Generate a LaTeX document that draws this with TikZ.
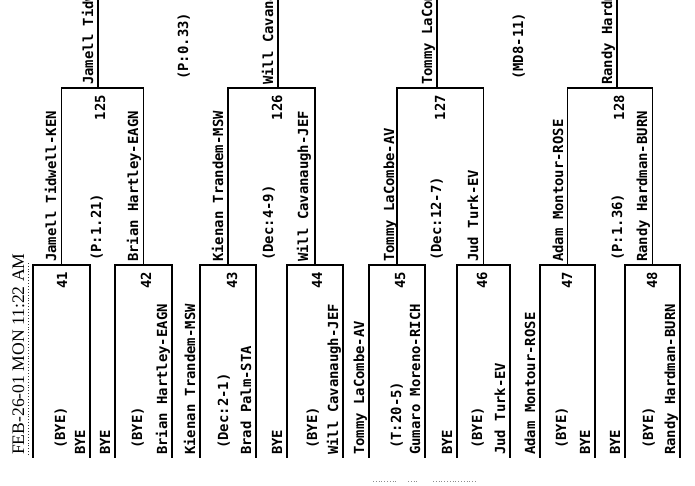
\documentclass[tikz,border=0pt]{standalone}
\usepackage{fontspec}
\newfontfamily\brkfont{DejaVu Sans Mono}
\newfontfamily\hdrfont{Liberation Serif}
\begin{document}
\begin{tikzpicture}[x=1pt,y=-1pt,
  txt/.style={font=\brkfont\bfseries\fontsize{13.9pt}{14pt}\selectfont, rotate=90, inner sep=0pt, anchor=base west},
  num/.style={txt, anchor=base east},
  hdr/.style={font=\hdrfont\fontsize{17.6pt}{18pt}\selectfont, rotate=90, inner sep=0pt, anchor=base west},
  wire/.style={line width=1.6pt, line join=miter, line cap=rect}]
\useasboundingbox (0,0) rectangle (695,486);
\fill[white] (0,0) rectangle (695,486);
\clip (0,0) rectangle (695,486);

% ---- round 1 boxes (left edge, right edge) ----
\foreach \n/\l/\r in {41/33/90, 42/115/172, 43/200/256, 44/287/343,
                       45/369/425, 46/457/510, 47/540/595, 48/625/680}{
  \coordinate (b\n L) at (\l,457);
  \coordinate (b\n R) at (\r,457);
  \coordinate (w\n) at ({(\l+\r)/2},265);
  \draw[wire] (b\n L) |- (\r,265) -- (b\n R);
}
% ---- round 2 boxes ----
\coordinate (w125) at (98,88);
\coordinate (w126) at (278,88);
\coordinate (w127) at (437,88);
\coordinate (w128) at (617,88);
\draw[wire] (w41) |- (w125) -| (w42);
\draw[wire] (w43) |- (w126) -| (w44);
\draw[wire] (w45) |- (w127) -| (w46);
\draw[wire] (w47) |- (w128) -| (w48);
% ---- round 3 (boxes above the page) ----
\coordinate (t125) at (98,-10);
\coordinate (t126) at (278,-10);
\coordinate (t127) at (437,-10);
\coordinate (t128) at (617,-10);
\draw[wire] (w125) -- (t125);
\draw[wire] (w126) -- (t126);
\draw[wire] (w127) -- (t127);
\draw[wire] (w128) -- (t128);

% ---- header ----
\node[hdr] (hdr) at (24,455) {FEB-26-01 MON 11:22 AM};
\coordinate (ulA) at (28,455);
\coordinate (ulB) at (28,262);
\draw[dotted, line width=0.9pt, black!80] (ulA) -- (ulB);

% ---- round 1 texts ----
\node[txt] (n41b) at (85,455) {BYE};
\node[txt] (l41) at (65,449) {(BYE)};
\node[num] (m41) at (67,272) {41};

\node[txt] (n42a) at (110,455) {BYE};
\node[txt] (n42b) at (167,455) {Brian Hartley-EAGN};
\node[txt] (l42) at (142,449) {(BYE)};
\node[num] (m42) at (151,272) {42};

\node[txt] (n43a) at (195,455) {Kienan Trandem-MSW};
\node[txt] (n43b) at (251,455) {Brad Palm-STA};
\node[txt] (l43) at (228,449) {(Dec:2-1)};
\node[num] (m43) at (237,272) {43};

\node[txt] (n44a) at (282,455) {BYE};
\node[txt] (n44b) at (338,455) {Will Cavanaugh-JEF};
\node[txt] (l44) at (317,449) {(BYE)};
\node[num] (m44) at (322,272) {44};

\node[txt] (n45a) at (364,455) {Tommy LaCombe-AV};
\node[txt] (n45b) at (420,455) {Gumaro Moreno-RICH};
\node[txt] (l45) at (401,449) {(T:20-5)};
\node[num] (m45) at (405,272) {45};

\node[txt] (n46a) at (452,455) {BYE};
\node[txt] (n46b) at (505,455) {Jud Turk-EV};
\node[txt] (l46) at (482,449) {(BYE)};
\node[num] (m46) at (487,272) {46};

\node[txt] (n47a) at (535,455) {Adam Montour-ROSE};
\node[txt] (n47b) at (590,455) {BYE};
\node[txt] (l47) at (566,449) {(BYE)};
\node[num] (m47) at (572,272) {47};

\node[txt] (n48a) at (620,455) {BYE};
\node[txt] (n48b) at (675,455) {Randy Hardman-BURN};
\node[txt] (l48) at (653,449) {(BYE)};
\node[num] (m48) at (657,272) {48};

% ---- round 2 texts ----
\node[txt] (n125a) at (56,262) {Jamell Tidwell-KEN};
\node[txt] (n125b) at (138,262) {Brian Hartley-EAGN};
\node[txt] (l125) at (101,261) {(P:1.21)};
\node[num] (m125) at (105,95) {125};

\node[txt] (n126a) at (223,262) {Kienan Trandem-MSW};
\node[txt] (n126b) at (308,262) {Will Cavanaugh-JEF};
\node[txt] (l126) at (273,261) {(Dec:4-9)};
\node[num] (m126) at (282,95) {126};

\node[txt] (n127a) at (394,262) {Tommy LaCombe-AV};
\node[txt] (n127b) at (478,262) {Jud Turk-EV};
\node[txt] (l127) at (441,261) {(Dec:12-7)};
\node[num] (m127) at (445,95) {127};

\node[txt] (n128a) at (563,262) {Adam Montour-ROSE};
\node[txt] (n128b) at (647,262) {Randy Hardman-BURN};
\node[txt] (l128) at (622,261) {(P:1.36)};
\node[num] (m128) at (624,95) {128};

% ---- round 3 texts ----
\node[txt] (n3a) at (93,85) {Jamell Tidwell-KEN};
\node[txt] (n3b) at (273,85) {Will Cavanaugh-JEF};
\node[txt] (l3ab) at (188,80) {(P:0.33)};
\node[txt] (n3c) at (432,85) {Tommy LaCombe-AV};
\node[txt] (n3d) at (612,85) {Randy Hardman-BURN};
\node[txt] (l3cd) at (523,80) {(MD8-11)};

% ---- faint marks at the foot ----
\coordinate (fa) at (373,481);
\coordinate (fb) at (398,481);
\coordinate (fc) at (408,481);
\coordinate (fd) at (418,481);
\coordinate (fe) at (433,481);
\coordinate (ff) at (477,481);
\draw[dotted, line width=0.8pt, black!45] (fa) -- (fb) (fc) -- (fd) (fe) -- (ff);
\end{tikzpicture}
\end{document}
